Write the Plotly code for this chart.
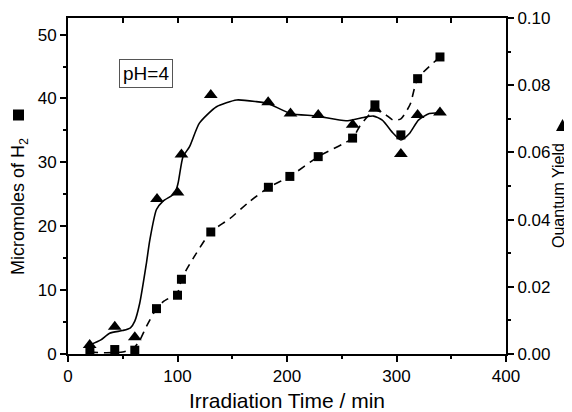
import plotly.graph_objects as go

# ---- data ----
time_h2 = [20, 42.7, 61, 80.8, 100, 103.6, 130.4, 183, 202.6, 228.5, 259.9, 280.3, 304, 319.3, 339.7]
h2_umol = [0.5, 0.7, 0.6, 7.1, 9.2, 11.7, 19.1, 26.1, 27.8, 30.9, 33.8, 39.0, 34.3, 43.1, 46.5]

time_qy = [19.8, 42.7, 61, 81.3, 100, 103.6, 130.4, 182.8, 203.2, 228.5, 260, 280.3, 304, 319.3, 339.7]
quantum_yield = [0.0027, 0.0081, 0.0050, 0.0461, 0.0481, 0.0594, 0.0771, 0.0749, 0.0716, 0.0711,
                 0.0682, 0.0730, 0.0595, 0.0711, 0.0719]

# smoothed guide curves (knots)
solid_x = [20, 30, 38, 50, 57, 61, 65.5, 71.6, 74.7, 80.8, 86.8, 97.5, 100.5, 105, 111, 120, 135.6,
           154, 172, 183, 203, 227, 254, 270, 279, 287, 297, 304, 312, 320, 330, 340]
solid_q = [0.0027, 0.0042, 0.0062, 0.0070, 0.0078, 0.0098, 0.0151, 0.027, 0.0339, 0.043, 0.0455,
           0.0478, 0.0508, 0.0587, 0.0617, 0.0687, 0.0736, 0.0756, 0.0751, 0.0745, 0.0716, 0.0708,
           0.0694, 0.0704, 0.0708, 0.0696, 0.0657, 0.0637, 0.0657, 0.0696, 0.0716, 0.0717]

dash_x = [20, 35, 50, 60, 66, 71.6, 80.8, 87, 100, 103.6, 108.2, 117.3, 130.4, 147.8, 166, 183.4,
          202.6, 228.5, 259.9, 266.6, 280, 289, 297, 304, 312.5, 319.3, 339.7]
dash_y = [0.3, 0.2, 0.3, 0.9, 2.3, 4.3, 7.1, 8.2, 9.6, 11.7, 13.2, 15.8, 19.1, 21.2, 23.9, 26.1,
          27.8, 30.9, 33.8, 35.7, 38.2, 37.6, 36.6, 36.8, 39.1, 43.1, 46.5]

x_title = "Irradiation Time / min"
y_title = "Micromoles of H<sub>2</sub>"
y2_title = "Quantum Yield"
note = "pH=4"

FONT = "Arial, Liberation Sans, Helvetica, sans-serif"
OFF = 8  # page body margin
W, H = 572 - OFF, 412 - OFF
# plot area in reference pixels: x 68..506, y 18..354
ML, MT = 68 - OFF, 18 - OFF
MR, MB = W - (506 - OFF), H - (354 - OFF)
PW, PH = W - ML - MR, H - MT - MB


def px(xp):
    return (xp - OFF - ML) / PW


def py(yp):
    return (H - MB - (yp - OFF)) / PH


fig = go.Figure()

fig.add_trace(go.Scatter(x=dash_x, y=dash_y, mode="lines",
                         line=dict(color="black", width=1.6, dash="8px,6px", shape="spline", smoothing=0.6),
                         hoverinfo="skip", showlegend=False))
fig.add_trace(go.Scatter(x=solid_x, y=solid_q, mode="lines", yaxis="y2",
                         line=dict(color="black", width=1.6, shape="spline", smoothing=0.6),
                         hoverinfo="skip", showlegend=False))
fig.add_trace(go.Scatter(x=time_h2, y=h2_umol, mode="markers",
                         marker=dict(symbol="square", size=9, color="black"), showlegend=False))
fig.add_trace(go.Scatter(x=time_qy, y=quantum_yield, mode="markers", yaxis="y2",
                         marker=dict(symbol="triangle-up", size=12, color="black"), showlegend=False))
# dummy trace so the top axis is drawn
fig.add_trace(go.Scatter(x=[None], y=[None], xaxis="x2", yaxis="y", showlegend=False, hoverinfo="skip"))

axis_common = dict(showline=True, linecolor="black", linewidth=2, showgrid=False, zeroline=False,
                   automargin=False, tickcolor="black", tickwidth=2,
                   tickfont=dict(family=FONT, size=17, color="black"))

fig.update_layout(
    width=W, height=H,
    margin=dict(l=ML, r=MR, t=MT, b=MB, autoexpand=False),
    paper_bgcolor="white", plot_bgcolor="white",
    font=dict(family=FONT, color="black"),
    xaxis=dict(range=[0, 400], dtick=100, ticks="outside", ticklen=6,
               minor=dict(dtick=50, ticks="outside", ticklen=3, tickwidth=2, tickcolor="black"),
               title=dict(text=x_title, font=dict(family=FONT, size=21), standoff=8),
               **axis_common),
    xaxis2=dict(range=[0, 400], dtick=50, overlaying="x", side="top", ticks="inside", ticklen=5,
                showticklabels=False, anchor="y", **axis_common),
    yaxis=dict(range=[0, 52.6], dtick=10, ticks="outside", ticklen=6,
               minor=dict(dtick=5, ticks="outside", ticklen=3, tickwidth=2, tickcolor="black"),
               **axis_common),
    yaxis2=dict(range=[0, 0.1], dtick=0.02, tickformat=".2f", overlaying="y", side="right",
                ticks="outside", ticklen=6,
                minor=dict(dtick=0.01, ticks="outside", ticklen=3, tickwidth=2, tickcolor="black"),
                **axis_common),
    annotations=[
        dict(text=y_title, xref="paper", yref="paper", x=px(19), y=py(207), textangle=-90,
             xanchor="center", yanchor="middle",
             showarrow=False, font=dict(family=FONT, size=18, color="black")),
        dict(text=y2_title, xref="paper", yref="paper", x=px(558), y=py(196), textangle=-90,
             xanchor="center", yanchor="middle",
             showarrow=False, font=dict(family=FONT, size=16, color="black")),
        dict(text=note, xref="paper", yref="paper", x=px(145.7), y=py(73.3), showarrow=False,
             xanchor="center", yanchor="middle",
             font=dict(family=FONT, size=19, color="black"), bordercolor="#555555", borderwidth=1,
             borderpad=3, bgcolor="white"),
    ],
    shapes=[
        dict(type="rect", xref="paper", yref="paper", x0=px(13), x1=px(24), y0=py(120.5), y1=py(109.5),
             fillcolor="black", line=dict(width=0)),
        dict(type="path", xref="paper", yref="paper",
             path=f"M {px(556)},{py(131)} L {px(569)},{py(131)} L {px(562.5)},{py(119)} Z",
             fillcolor="black", line=dict(width=0)),
    ],
)

fig.write_html("out.html")
